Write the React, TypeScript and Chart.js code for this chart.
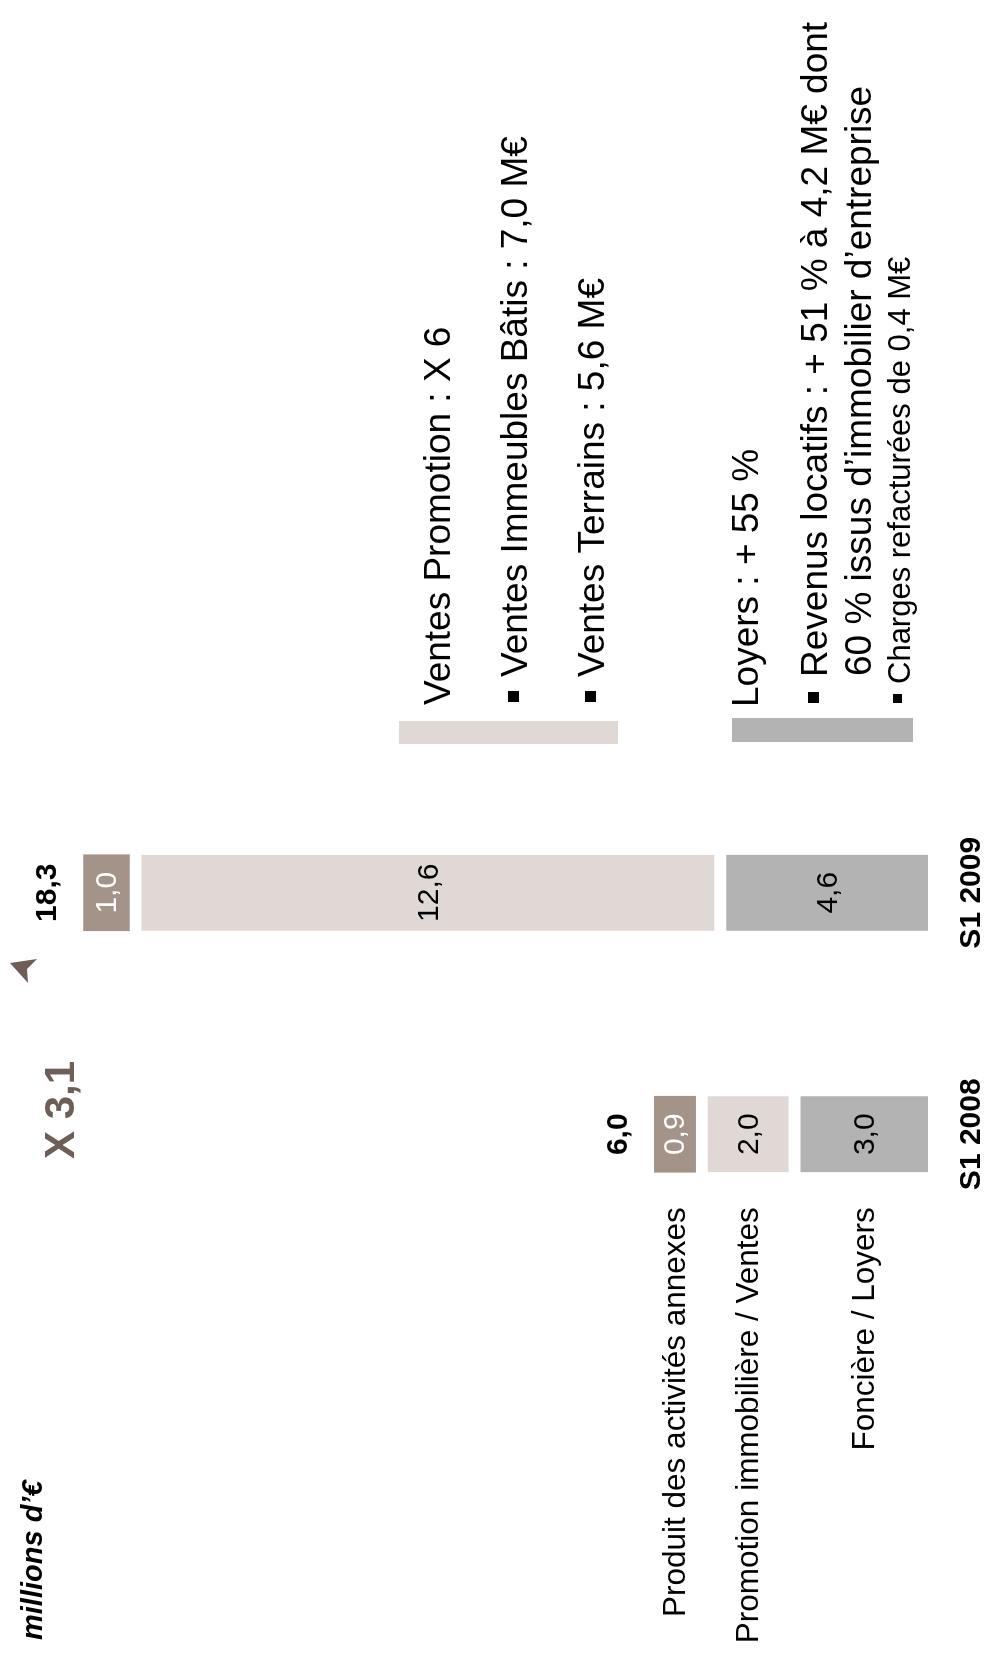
import { useEffect, useRef } from "react";
import { Chart, registerables } from "chart.js";

Chart.register(...registerables);

// Chiffre d'affaires par activité, en millions d'euros
const periods = ["S1 2008", "S1 2009"];
const segmentNames = [
  "Foncière / Loyers",
  "Promotion immobilière / Ventes",
  "Produit des activités annexes",
];
const foncierLoyers = [3.0, 4.6];
const promotionVentes = [2.0, 12.6];
const activitesAnnexes = [0.9, 1.0];
const totals = [6.0, 18.3];

const segmentColors = ["#b3b3b3", "#e0d8d5", "#a39389"];
const valueTextColors = ["#000000", "#000000", "#ffffff"];

const unitLabel = "millions d’€";
const growthLabel = "X 3,1";

const promotionHeadline = "Ventes Promotion : X 6";
const promotionDetails = ["Ventes Immeubles Bâtis : 7,0 M€", "Ventes Terrains : 5,6 M€"];
const loyersHeadline = "Loyers : + 55 %";
const loyersDetail = ["Revenus locatifs : + 51 % à 4,2 M€ dont", "60 % issus d’immobilier d’entreprise"];
const loyersMinorDetail = "Charges refacturées de 0,4 M€";

const FONT = '"Liberation Sans", Arial, Helvetica, sans-serif';
const SEGMENT_GAP = 12;
const ACCENT = "#6d5e57";

const fmt = (v: number) => v.toFixed(1).replace(".", ",");

const labelsPlugin = {
  id: "segmentLabels",
  afterDatasetsDraw(chart: any) {
    const { ctx, chartArea } = chart;
    const datasets = chart.data.datasets;
    const n = datasets.length;
    ctx.save();
    ctx.textBaseline = "middle";

    datasets.forEach((ds: any, di: number) => {
      const meta = chart.getDatasetMeta(di);
      const gap = di < n - 1 ? SEGMENT_GAP : 0;
      meta.data.forEach((el: any, i: number) => {
        const p = el.getProps(["x", "y", "base", "width"], true);
        const top = Math.min(p.y, p.base) + gap;
        const bottom = Math.max(p.y, p.base);
        const cy = (top + bottom) / 2;

        // value inside the segment
        ctx.font = `30px ${FONT}`;
        ctx.textAlign = "center";
        ctx.fillStyle = valueTextColors[di];
        ctx.fillText(fmt(ds.data[i]), p.x, cy + 1);

        // segment names beside the first column
        if (i === 0) {
          ctx.font = `31.5px ${FONT}`;
          ctx.textAlign = "right";
          ctx.fillStyle = "#000000";
          ctx.fillText(segmentNames[di], p.x - p.width / 2 - 35, cy + 1);
        }
      });
    });

    // totals above each column
    const topMeta = chart.getDatasetMeta(n - 1);
    topMeta.data.forEach((el: any, i: number) => {
      const p = el.getProps(["x", "y"], true);
      ctx.font = `bold 30px ${FONT}`;
      ctx.textAlign = "center";
      ctx.fillStyle = "#000000";
      ctx.fillText(fmt(totals[i]), p.x, p.y - 36);
    });

    // period labels under the columns
    const xScale = chart.scales.x;
    periods.forEach((label, i) => {
      ctx.font = `bold 30px ${FONT}`;
      ctx.textAlign = "center";
      ctx.fillStyle = "#000000";
      ctx.fillText(label, xScale.getPixelForValue(i), chartArea.bottom + 44);
    });

    ctx.restore();
  },
  afterDraw(chart: any) {
    const { ctx } = chart;
    ctx.save();

    // unit
    ctx.textBaseline = "alphabetic";
    ctx.textAlign = "left";
    ctx.fillStyle = "#000000";
    ctx.font = `italic bold 29px ${FONT}`;
    ctx.fillText(unitLabel, 16, 42);

    // growth multiple and arrow head
    ctx.fillStyle = ACCENT;
    ctx.font = `bold 42px ${FONT}`;
    ctx.textAlign = "center";
    ctx.textBaseline = "middle";
    ctx.fillText(growthLabel, 546, 62);
    ctx.beginPath();
    ctx.moveTo(693, 10);
    ctx.lineTo(697, 37);
    ctx.lineTo(687, 27);
    ctx.lineTo(673, 28);
    ctx.closePath();
    ctx.fill();

    // commentary: promotion
    ctx.fillStyle = segmentColors[1];
    ctx.fillRect(912, 399, 23, 219);
    ctx.fillStyle = segmentColors[0];
    ctx.fillRect(914, 732, 24, 181);

    ctx.textAlign = "left";
    ctx.textBaseline = "alphabetic";
    ctx.fillStyle = "#000000";
    ctx.font = `37px ${FONT}`;
    ctx.fillText(promotionHeadline, 951, 450);
    const bullet = (x: number, baseline: number, size: number) => {
      ctx.fillRect(x, baseline - size - 8, size, size);
    };
    promotionDetails.forEach((line, k) => {
      const baseline = 527 + k * 77;
      bullet(954, baseline, 11);
      ctx.fillText(line, 979, baseline);
    });

    // commentary: loyers
    ctx.fillText(loyersHeadline, 949, 758);
    bullet(953, 827, 11);
    ctx.fillText(loyersDetail[0], 979, 827);
    ctx.fillText(loyersDetail[1], 980, 871);
    ctx.font = `31px ${FONT}`;
    bullet(953, 910, 9);
    ctx.fillText(loyersMinorDetail, 972, 910);

    ctx.restore();
  },
};

export default function App() {
  const canvasRef = useRef<HTMLCanvasElement | null>(null);

  useEffect(() => {
    const canvas = canvasRef.current;
    if (!canvas) return;
    const series = [foncierLoyers, promotionVentes, activitesAnnexes];
    const chart = new Chart(canvas, {
      type: "bar",
      data: {
        labels: periods,
        datasets: series.map((values, di) => ({
          label: segmentNames[di],
          data: values,
          backgroundColor: segmentColors[di],
          borderColor: "#ffffff",
          borderWidth: { top: di < series.length - 1 ? SEGMENT_GAP : 0, right: 0, bottom: 0, left: 0 },
          borderSkipped: "start",
          barThickness: 76,
        })),
      },
      options: {
        responsive: false,
        animation: false,
        devicePixelRatio: 1,
        layout: { padding: { left: 401, right: 772, top: 0, bottom: 58 } },
        plugins: {
          legend: { display: false },
          tooltip: { enabled: false },
        },
        scales: {
          x: { stacked: true, display: false },
          y: { stacked: true, display: false, min: 0, max: 20 },
        },
      },
      plugins: [labelsPlugin],
    } as any);
    return () => chart.destroy();
  }, []);

  return (
    <div
      style={{
        position: "absolute",
        left: 0,
        top: 0,
        width: 986,
        height: 1656,
        overflow: "hidden",
        background: "#ffffff",
      }}
    >
      <div
        style={{
          position: "absolute",
          left: 0,
          top: 0,
          width: 1656,
          height: 986,
          transformOrigin: "0 0",
          transform: "rotate(-90deg) translateX(-1656px)",
        }}
      >
        <canvas ref={canvasRef} width={1656} height={986} style={{ display: "block" }} />
      </div>
    </div>
  );
}
